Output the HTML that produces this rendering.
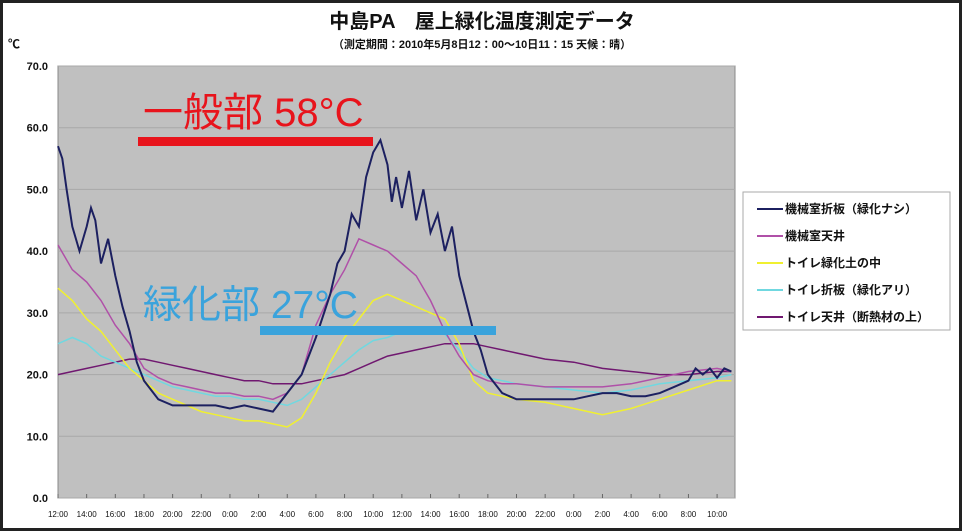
<!DOCTYPE html>
<html><head><meta charset="utf-8"><style>
body{margin:0;background:#fff;}
#wrap{position:relative;width:962px;height:531px;box-sizing:border-box;border:3px solid #222;overflow:hidden;font-family:"Liberation Sans","Noto Sans CJK JP",sans-serif;}
svg text{font-family:"Liberation Sans","Noto Sans CJK JP",sans-serif;}
</style></head><body>
<div id="wrap">
<svg id="chart" width="962" height="531" style="position:absolute;left:-3px;top:-3px">
<text x="482" y="28" text-anchor="middle" font-size="20" font-weight="bold" fill="#111">中島PA　屋上緑化温度測定データ</text>
<text x="482" y="48" text-anchor="middle" font-size="11" font-weight="bold" fill="#111">（測定期間：2010年5月8日12：00～10日11：15 天候：晴）</text>
<text x="8" y="48" font-size="12" font-weight="bold" fill="#111">℃</text>
<rect x="58" y="66" width="677" height="432" fill="#c0c0c0" stroke="#888"/>
<g id="grid"></g><g id="axes"></g><g id="series"></g>
<text x="143" y="126" font-size="40" fill="#e8141c">一般部 58°C</text>
<rect x="138" y="137" width="235" height="9" fill="#e8141c"/>
<text x="143" y="318" font-size="39" fill="#3aa3dc">緑化部 27°C</text>
<rect x="260" y="326" width="236" height="9" fill="#3aa3dc"/>
<g id="legend">
<rect x="743" y="192" width="207" height="138" fill="#fff" stroke="#aaa"/>
</g>
</svg>
</div>
<script>
const yTicks=[0,10,20,30,40,50,60,70];
const xLabels=["12:00","14:00","16:00","18:00","20:00","22:00","0:00","2:00","4:00","6:00","8:00","10:00","12:00","14:00","16:00","18:00","20:00","22:00","0:00","2:00","4:00","6:00","8:00","10:00"];
const seriesNames=["機械室折板（緑化ナシ）","機械室天井","トイレ緑化土の中","トイレ折板（緑化アリ）","トイレ天井（断熱材の上）"];
const seriesColors=["#1c2060","#b050a8","#f0f030","#70d8e0","#701870"];
const hoursA=[0,0.3,0.6,1,1.5,2,2.3,2.6,3,3.5,4,4.5,5,5.5,6,7,8,9,10,11,12,13,14,15,16,17,18,19,19.5,20,20.5,21,21.5,22,22.5,23,23.3,23.6,24,24.5,25,25.5,26,26.5,27,27.5,28,29,29.5,30,31,32,33,34,35,36,37,38,39,40,41,42,43,44,44.5,45,45.5,46,46.5,47];
const navy=[57,55,50,44,40,44,47,45,38,42,36,31,27,22,19,16,15,15,15,15,14.5,15,14.5,14,17,20,26,33,38,40,46,44,52,56,58,54,48,52,47,53,45,50,43,46,40,44,36,27,24,20,17,16,16,16,16,16,16.5,17,17,16.5,16.5,17,18,19,21,20,21,19.5,21,20.5];
const hoursH=[0,1,2,3,4,5,6,7,8,9,10,11,12,13,14,15,16,17,18,19,20,21,22,23,24,25,26,27,28,29,30,31,32,34,36,38,40,42,44,46,47];
const magenta=[41,37,35,32,28,25,21,19.5,18.5,18,17.5,17,17,16.5,16.5,16,17,20,28,33,37,42,41,40,38,36,32,27,23,20,19,18.5,18.5,18,18,18,18.5,19.5,20.5,21,20.5];
const yellow=[34,32,29,27,24,21,19,17,16,15,14,13.5,13,12.5,12.5,12,11.5,13,17,22,26,29,32,33,32,31,30,29,25,19,17,16.5,16,15.5,14.5,13.5,14.5,16,17.5,19,19];
const cyan=[25,26,25,23,22,21,20,19,18,17.5,17,16.5,16.5,16,16,15.5,15,16,18,20,22,24,25.5,26,27,27,27,26.5,24,21,19.5,19,18.5,18,17.5,17,17.5,18.5,19,19.5,20];
const purple=[20,20.5,21,21.5,22,22.5,22.5,22,21.5,21,20.5,20,19.5,19,19,18.5,18.5,18.5,19,19.5,20,21,22,23,23.5,24,24.5,25,25,25,24.5,24,23.5,22.5,22,21,20.5,20,20,20.5,20.5];
const X0=58,X1=735,Y0=498,Y1=66,HMAX=47.25;
const xs=h=>X0+h/HMAX*(X1-X0);
const ys=v=>Y0-v/70*(Y0-Y1);
const NS="http://www.w3.org/2000/svg";
function mk(tag,attrs,parent){const e=document.createElementNS(NS,tag);for(const k in attrs)e.setAttribute(k,attrs[k]);parent.appendChild(e);return e;}
const grid=document.getElementById('grid'),axes=document.getElementById('axes'),ser=document.getElementById('series'),leg=document.getElementById('legend');
yTicks.forEach(v=>{
  const l=mk('line',{x1:X0,x2:X1,y1:ys(v),y2:ys(v),stroke:'#a8a8a8','stroke-width':1},grid);
  
  
  const t=mk('text',{x:X0-10,y:ys(v)+4,'text-anchor':'end','font-size':11,'font-weight':'bold',fill:'#111'},axes);
  t.textContent=v.toFixed(1);
  
  
});
xLabels.forEach((s,i)=>{
  const x=xs(i*2);
  const t=mk('text',{x:x,y:517,'text-anchor':'middle','font-size':8,fill:'#111'},axes);
  t.textContent=s;
  
  
  const tk=mk('line',{x1:x,x2:x,y1:Y0,y2:Y0-4,stroke:'#666'},axes);
  
  
});
const data=[[hoursA,navy],[hoursH,magenta],[hoursH,yellow],[hoursH,cyan],[hoursH,purple]];
const order=[4,3,2,1,0];
order.forEach(i=>{
  const [hs,vs]=data[i];
  const p=mk('polyline',{points:hs.map((h,j)=>xs(h).toFixed(1)+','+ys(vs[j]).toFixed(1)).join(' '),fill:'none',stroke:seriesColors[i],'stroke-width':i==0?2:1.5},ser);
  
  
});
seriesNames.forEach((n,i)=>{
  const y=209+i*27;
  const l=mk('line',{x1:757,x2:783,y1:y,y2:y,stroke:seriesColors[i],'stroke-width':2},leg);
  
  
  const t=mk('text',{x:785,y:y+4,'font-size':12,'font-weight':'bold',fill:'#111'},leg);
  t.textContent=n;
  
  
});
</script>
</body></html>
